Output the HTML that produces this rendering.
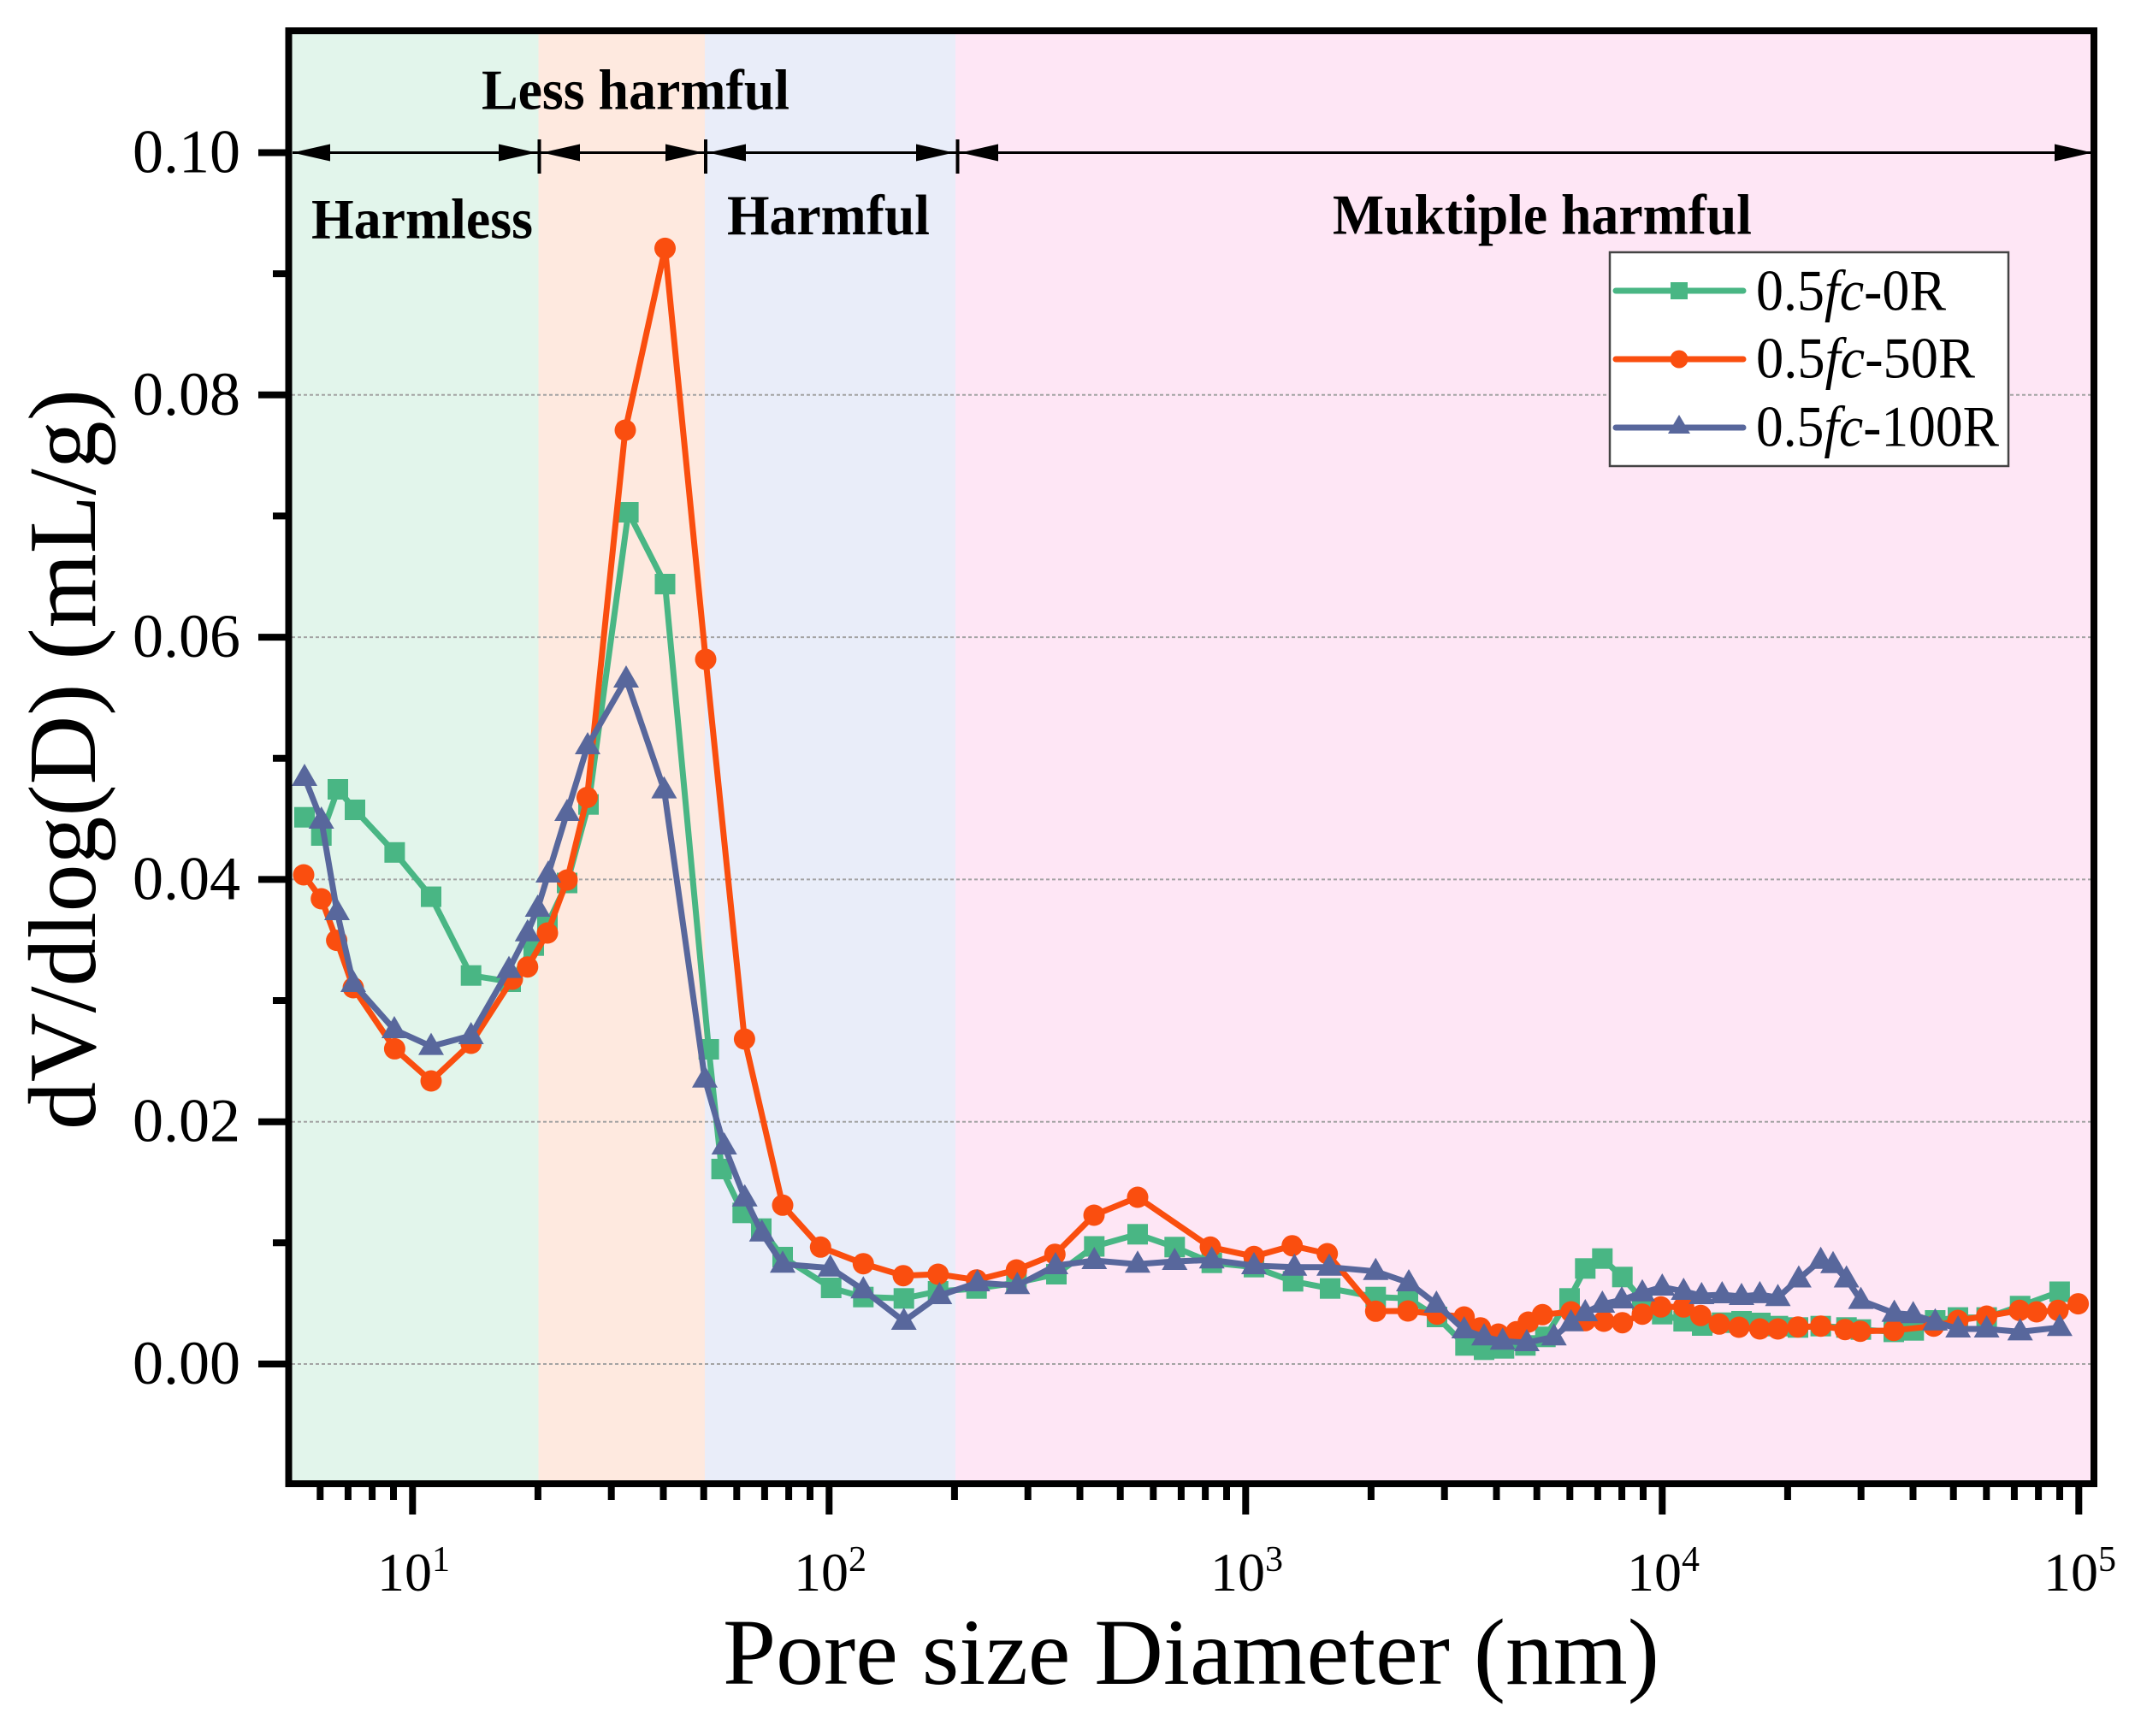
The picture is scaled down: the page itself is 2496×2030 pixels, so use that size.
<!DOCTYPE html>
<html>
<head>
<meta charset="utf-8">
<style>
html,body{margin:0;padding:0;background:#ffffff;}
svg{display:block;}
</style>
</head>
<body>
<svg width="2496" height="2030" viewBox="0 0 2496 2030" xmlns="http://www.w3.org/2000/svg" font-family="'Liberation Serif','Times New Roman',serif">
<defs>
  <marker id="mSq" markerUnits="userSpaceOnUse" markerWidth="26" markerHeight="26" refX="13" refY="13" orient="0" overflow="visible">
    <rect x="1" y="1" width="24" height="24" fill="#49b684"/>
  </marker>
  <marker id="mCi" markerUnits="userSpaceOnUse" markerWidth="28" markerHeight="28" refX="14" refY="14" orient="0" overflow="visible">
    <circle cx="14" cy="14" r="12.5" fill="#fa4e0f"/>
  </marker>
  <marker id="mTr" markerUnits="userSpaceOnUse" markerWidth="32" markerHeight="32" refX="16" refY="16" orient="0" overflow="visible">
    <polygon points="16,0 1,26 31,26" fill="#58679c"/>
  </marker>
</defs>

<!-- region backgrounds -->
<rect x="337" y="36" width="292.5" height="1699" fill="#e2f5eb"/>
<rect x="629.5" y="36" width="194.5" height="1699" fill="#fee9df"/>
<rect x="824" y="36" width="293" height="1699" fill="#e9edf9"/>
<rect x="1117" y="36" width="1331" height="1699" fill="#fee6f5"/>

<!-- gridlines -->
<g stroke="#a3a3a3" stroke-width="2" stroke-dasharray="4 3" fill="none">
  <path d="M341 1595H2446 M341 1311.7H2446 M341 1028.4H2446 M341 745.1H2446 M341 461.8H2446"/>
</g>

<!-- arrows -->
<g fill="#000">
  <path d="M342 178.5H2446" stroke="#000" stroke-width="3"/>
  <polygon points="342,178.5 386,168.5 386,188.5"/>
  <polygon points="627,178.5 583,168.5 583,188.5"/>
  <polygon points="634,178.5 678,168.5 678,188.5"/>
  <polygon points="822,178.5 778,168.5 778,188.5"/>
  <polygon points="828,178.5 872,168.5 872,188.5"/>
  <polygon points="1115,178.5 1071,168.5 1071,188.5"/>
  <polygon points="1123,178.5 1167,168.5 1167,188.5"/>
  <polygon points="2446,178.5 2402,168.5 2402,188.5"/>
  <path d="M630.5 163V203 M825 163V203 M1119.5 163V203" stroke="#000" stroke-width="4"/>
</g>

<!-- annotations -->
<g font-weight="bold" font-size="67" fill="#000">
  <text x="563" y="127.5" textLength="360" lengthAdjust="spacingAndGlyphs">Less harmful</text>
  <text x="364" y="278.5" textLength="259" lengthAdjust="spacingAndGlyphs">Harmless</text>
  <text x="850" y="274" textLength="237" lengthAdjust="spacingAndGlyphs">Harmful</text>
  <text x="1558" y="273.5" textLength="490" lengthAdjust="spacingAndGlyphs">Muktiple harmful</text>
</g>

<!-- series: green -->
<polyline fill="none" stroke="#49b684" stroke-width="7" stroke-linejoin="round" stroke-linecap="round"
 marker-start="url(#mSq)" marker-mid="url(#mSq)" marker-end="url(#mSq)"
 points="356,955.7 375.7,977 395,923 415,947 461.4,996.8 504,1048.6 550.7,1140.7 597,1148 624,1105.7 640,1080.7 663,1032.5 688,940.7 734.6,599 777.5,683 828.6,1227 843.6,1367 868.3,1418.3 890,1436.7 915,1470 971.7,1506 1009.3,1516.7 1056.7,1518.3 1096.7,1510 1141.7,1506.7 1188.3,1500 1235,1490 1279.3,1457.5 1330,1443.3 1373.3,1458.3 1416.7,1476.7 1466,1481.7 1511.7,1498.3 1555,1506.7 1608.3,1516.7 1646,1518.3 1680,1540 1713.3,1573.3 1735,1578.3 1758.3,1576.7 1783.3,1573.3 1806.7,1563.3 1835,1518.3 1853.3,1483.3 1873.3,1471.7 1896.7,1493.3 1920,1520 1943.3,1536.7 1968.3,1545 1990,1550 2013.3,1546.7 2036,1545 2058,1547 2078.5,1550.7 2102,1552.3 2128.6,1550.7 2158.7,1552.3 2175.5,1554.7 2214,1557.4 2237.3,1555.7 2262.4,1544 2289,1540.6 2322.6,1540.6 2361.7,1527.3 2407.9,1510.5"/>

<!-- series: orange -->
<polyline fill="none" stroke="#fa4e0f" stroke-width="7" stroke-linejoin="round" stroke-linecap="round"
 marker-start="url(#mCi)" marker-mid="url(#mCi)" marker-end="url(#mCi)"
 points="355,1023 375.7,1051 393.6,1099.6 413,1155 461.4,1226.4 504,1264 550.7,1220 599,1145 616.8,1130.7 640,1091 663,1029 686.4,932.5 731,503 777.5,290.4 825,771 870.4,1215 915,1409.3 959.3,1458.3 1009.3,1477.7 1056,1491.7 1096.7,1490 1141.7,1496.7 1188.3,1485 1233.3,1466.7 1279,1421 1330,1400 1415,1458.3 1466,1469.3 1510.7,1456.7 1551.7,1466 1608.3,1533.3 1646,1533 1680,1536.7 1711.7,1540 1730.7,1552.7 1751.7,1560 1772.7,1557.3 1786.7,1546 1803.3,1537.3 1836.7,1534 1853.3,1544.3 1875,1545 1896.7,1546.7 1920,1536.7 1941.7,1528.3 1968.3,1528.3 1988.3,1538.3 2010,1548.3 2033,1552 2057.4,1554 2078.5,1554 2102,1551.7 2128.6,1550.7 2157,1554.7 2174.8,1556.7 2214,1555.7 2260.7,1550.7 2289,1544 2322.6,1539 2361,1532.3 2381,1534 2406,1532.3 2429.6,1524.6"/>

<!-- series: blue -->
<polyline fill="none" stroke="#58679c" stroke-width="7" stroke-linejoin="round" stroke-linecap="round"
 marker-start="url(#mTr)" marker-mid="url(#mTr)" marker-end="url(#mTr)"
 points="356,909 375.7,959 394,1066 413,1150 461,1204 504,1223.6 550.7,1211 595,1133.6 616.8,1090.7 628.6,1062 641,1022 663,950 687,872 732,794 776.4,923.6 824,1261.7 846.7,1340 870.7,1400.7 890.7,1441.7 915,1478.3 970.7,1482.7 1009.3,1508.3 1056.7,1545 1098.3,1515 1142.7,1500 1189.3,1503.3 1234,1480 1279.3,1474 1330,1478.3 1373.3,1475 1416.7,1473.3 1466,1480 1513.3,1481.7 1554,1481.7 1608.3,1486.7 1647,1500 1679.3,1525 1711.7,1555 1735,1563.3 1756.7,1568.3 1785,1570 1816.7,1563.3 1836.7,1546.7 1853.3,1535 1873.3,1525 1896,1520 1920,1511.7 1943.3,1505 1968.3,1510 1989.3,1515 2013.3,1514 2036,1516 2057.4,1513.9 2078.5,1517.2 2102.9,1495.5 2128.6,1473.7 2143,1478.8 2158.7,1495.5 2175.5,1520.6 2214.6,1535.6 2236.7,1537.3 2262.4,1545.7 2289.2,1554 2322.6,1554 2361.7,1557.4 2407.9,1552.3"/>

<!-- legend -->
<rect x="1882" y="295" width="466" height="250" fill="#ffffff" stroke="#444" stroke-width="2.5"/>
<g stroke-width="7" stroke-linecap="round">
  <path d="M1889 340H2038" stroke="#49b684"/>
  <path d="M1889 420H2038" stroke="#fa4e0f"/>
  <path d="M1889 500H2038" stroke="#58679c"/>
</g>
<rect x="1953" y="330" width="20" height="20" fill="#49b684"/>
<circle cx="1963" cy="420" r="10.5" fill="#fa4e0f"/>
<polygon points="1963,485 1950,507 1976,507" fill="#58679c"/>
<g font-size="68" fill="#000">
  <text x="2053" y="362.7" textLength="222" lengthAdjust="spacingAndGlyphs">0.5<tspan font-style="italic">fc</tspan>-0R</text>
  <text x="2053" y="441.7" textLength="256" lengthAdjust="spacingAndGlyphs">0.5<tspan font-style="italic">fc</tspan>-50R</text>
  <text x="2053" y="521.7" textLength="284" lengthAdjust="spacingAndGlyphs">0.5<tspan font-style="italic">fc</tspan>-100R</text>
</g>

<!-- frame -->
<rect x="337.5" y="36" width="2110.5" height="1699" fill="none" stroke="#000" stroke-width="8"/>

<!-- y ticks -->
<g stroke="#000" stroke-width="8">
  <path d="M302 1595H337 M302 1311.7H337 M302 1028.4H337 M302 745.1H337 M302 461.8H337 M302 178.5H337"/>
  <path d="M319 1453.3H337 M319 1170H337 M319 886.7H337 M319 603.4H337 M319 320.1H337"/>
</g>

<!-- x ticks -->
<g stroke="#000" stroke-width="8">
  <path d="M482.3 1735V1771 M969.3 1735V1771 M1456.3 1735V1771 M1943.3 1735V1771 M2430.3 1735V1771"/>
  <path d="M374.3 1735V1754 M406.9 1735V1754 M435.1 1735V1754 M460 1735V1754
           M628.9 1735V1754 M714.7 1735V1754 M775.5 1735V1754 M822.7 1735V1754 M861.3 1735V1754 M893.9 1735V1754 M922.1 1735V1754 M947 1735V1754
           M1115.9 1735V1754 M1201.7 1735V1754 M1262.5 1735V1754 M1309.7 1735V1754 M1348.3 1735V1754 M1380.9 1735V1754 M1409.1 1735V1754 M1434 1735V1754
           M1602.9 1735V1754 M1688.7 1735V1754 M1749.5 1735V1754 M1796.7 1735V1754 M1835.3 1735V1754 M1867.9 1735V1754 M1896.1 1735V1754 M1921 1735V1754
           M2089.9 1735V1754 M2175.7 1735V1754 M2236.5 1735V1754 M2283.7 1735V1754 M2322.3 1735V1754 M2354.9 1735V1754 M2383.1 1735V1754 M2408 1735V1754"/>
</g>

<!-- y tick labels -->
<g font-size="72" fill="#000" text-anchor="end">
  <text x="281" y="1618">0.00</text>
  <text x="281" y="1334.7">0.02</text>
  <text x="281" y="1051.4">0.04</text>
  <text x="281" y="768">0.06</text>
  <text x="281" y="484.8">0.08</text>
  <text x="281" y="201.5">0.10</text>
</g>

<!-- x tick labels -->
<g font-size="64" fill="#000">
  <text x="441" y="1860">10<tspan dy="-23" font-size="42">1</tspan></text>
  <text x="928" y="1860">10<tspan dy="-23" font-size="42">2</tspan></text>
  <text x="1415" y="1860">10<tspan dy="-23" font-size="42">3</tspan></text>
  <text x="1902" y="1860">10<tspan dy="-23" font-size="42">4</tspan></text>
  <text x="2389" y="1860">10<tspan dy="-23" font-size="42">5</tspan></text>
</g>

<!-- axis titles -->
<text x="1392.5" y="1969" font-size="110" text-anchor="middle" fill="#000" textLength="1095" lengthAdjust="spacingAndGlyphs">Pore size Diameter (nm)</text>
<text transform="translate(111,888) rotate(-90)" x="0" y="0" font-size="112" text-anchor="middle" fill="#000" textLength="866" lengthAdjust="spacingAndGlyphs">dV/dlog(D) (mL/g)</text>
</svg>
</body>
</html>
